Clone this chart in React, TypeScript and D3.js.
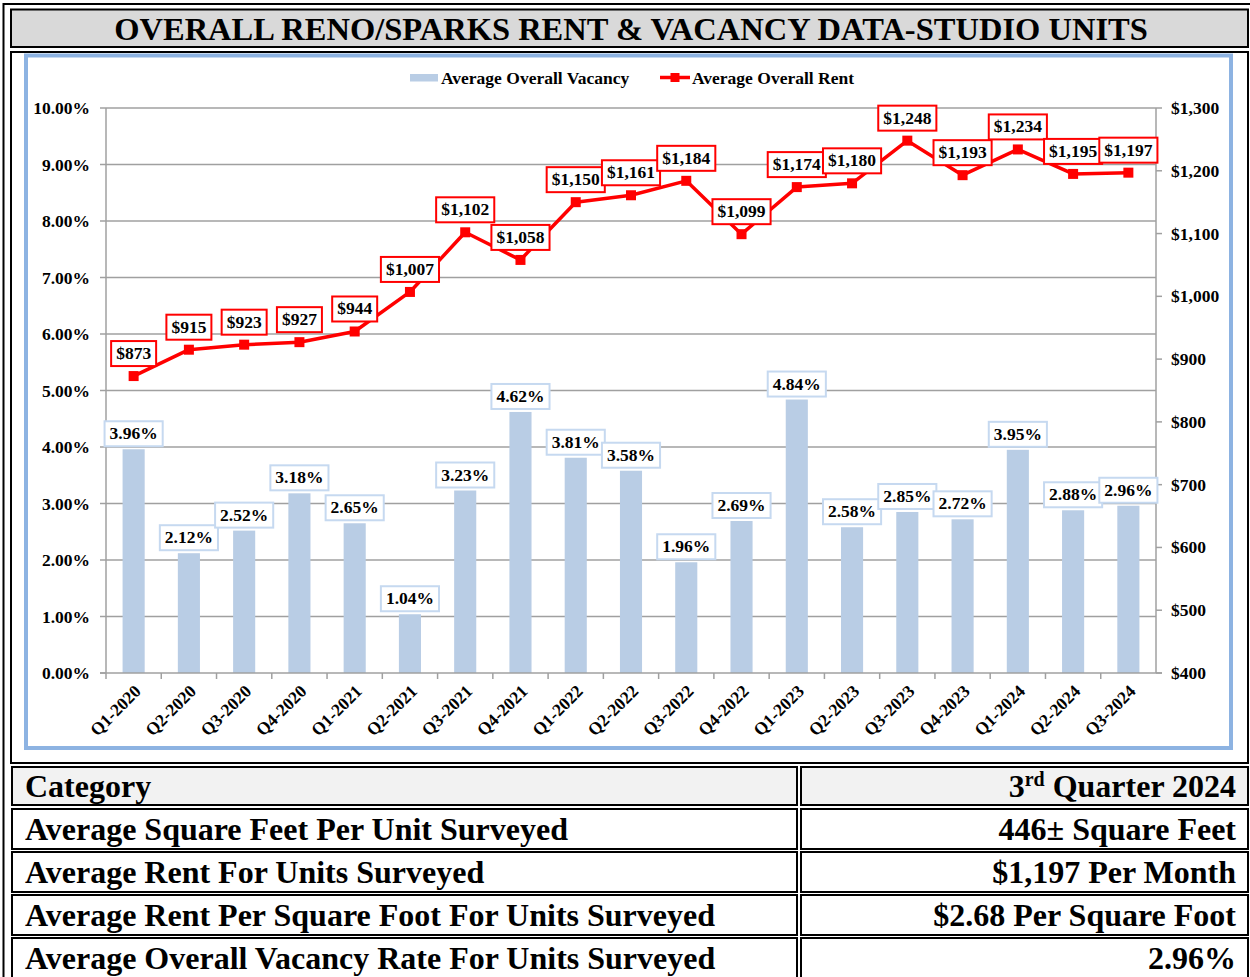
import React from 'react';
import * as d3 from 'd3';

const quarters = ['Q1-2020','Q2-2020','Q3-2020','Q4-2020','Q1-2021','Q2-2021','Q3-2021','Q4-2021','Q1-2022','Q2-2022','Q3-2022','Q4-2022','Q1-2023','Q2-2023','Q3-2023','Q4-2023','Q1-2024','Q2-2024','Q3-2024'];
const vacancy = [3.96,2.12,2.52,3.18,2.65,1.04,3.23,4.62,3.81,3.58,1.96,2.69,4.84,2.58,2.85,2.72,3.95,2.88,2.96];
const rent = [873,915,923,927,944,1007,1102,1058,1150,1161,1184,1099,1174,1180,1248,1193,1234,1195,1197];
const vacancyTicks = [0,1,2,3,4,5,6,7,8,9,10];
const rentTicks = [400,500,600,700,800,900,1000,1100,1200,1300];
const titleText = 'OVERALL RENO/SPARKS RENT & VACANCY DATA-STUDIO UNITS';
const legendLabels = ['Average Overall Vacancy','Average Overall Rent'];
const tableRows = [
  ['Average Square Feet Per Unit Surveyed','446\u00B1 Square Feet'],
  ['Average Rent For Units Surveyed','$1,197 Per Month'],
  ['Average Rent Per Square Foot For Units Surveyed','$2.68 Per Square Foot'],
  ['Average Overall Vacancy Rate For Units Surveyed','2.96%'],
];

const FONT = "'Liberation Serif', 'Times New Roman', serif";
const LBL = 17.5;

let ctx: CanvasRenderingContext2D | null = null;
function textW(s: string, size: number) {
  if (!ctx) ctx = document.createElement('canvas').getContext('2d');
  if (!ctx) return s.length * size * 0.5;
  ctx.font = `bold ${size}px 'Liberation Serif'`;
  return ctx.measureText(s).width;
}

export default function App() {
  const W = 1250, H = 977;
  const x = d3.scaleBand<string>().domain(quarters).range([106, 1156]).padding(0);
  const bw = x.bandwidth();
  const cx = (i: number) => (x(quarters[i]) as number) + bw / 2;
  const yL = d3.scaleLinear().domain([0, 10]).range([673, 108]);
  const yR = d3.scaleLinear().domain([400, 1300]).range([673, 108]);
  const line = d3.line<number>().x((_, i) => cx(i)).y(d => yR(d));
  const pct = d3.format('.2f');
  const money = d3.format('$,');
  const barW = bw * 0.4;

  const rowTop = [809, 852, 895, 938];

  return (
    <svg width={W} height={H} style={{ position: 'absolute', left: 0, top: 0, display: 'block' }} fontFamily={FONT}>
      <rect x={0} y={0} width={W} height={H} fill="#fff" />
      {/* outer double border */}
      <rect x={3.5} y={4} width={1260} height={1000} fill="none" stroke="#000" strokeWidth={2} />
      {/* title */}
      <rect x={11} y={9.5} width={1237} height={37.5} fill="#d9d9d9" stroke="#000" strokeWidth={2} />
      <text x={631} y={40} textAnchor="middle" fontSize={32.5} fontWeight="bold">{titleText}</text>
      {/* chart box */}
      <rect x={11} y={52} width={1237} height={711} fill="#fff" stroke="#000" strokeWidth={2} />
      <rect x={26} y={55.5} width={1205} height={692.5} fill="#fff" stroke="#8db3e2" strokeWidth={4} />

      {/* legend */}
      <rect x={410} y={74} width={28} height={7.5} fill="#b9cde5" />
      <text x={441} y={83.5} fontSize={LBL} fontWeight="bold">{legendLabels[0]}</text>
      <line x1={660} x2={690} y1={77.5} y2={77.5} stroke="#ff0000" strokeWidth={3.5} />
      <rect x={670.5} y={73} width={9} height={9} fill="#ff0000" />
      <text x={692} y={83.5} fontSize={LBL} fontWeight="bold">{legendLabels[1]}</text>

      {/* gridlines */}
      {vacancyTicks.filter(t => t > 0).map(t => (
        <line key={'g' + t} x1={106} x2={1156} y1={yL(t)} y2={yL(t)} stroke="#a0a0a0" strokeWidth={1.3} />
      ))}
      {/* bars */}
      {vacancy.map((v, i) => (
        <rect key={'b' + i} x={cx(i) - barW / 2} y={yL(v)} width={barW} height={yL(0) - yL(v)} fill="#b9cde5" />
      ))}
      {/* axes */}
      <line x1={106} x2={106} y1={108} y2={673} stroke="#a0a0a0" strokeWidth={1.5} />
      <line x1={1156} x2={1156} y1={108} y2={673} stroke="#a0a0a0" strokeWidth={1.5} />
      <line x1={100} x2={1162} y1={673} y2={673} stroke="#a0a0a0" strokeWidth={1.5} />
      {vacancyTicks.map(t => (
        <g key={'l' + t}>
          <line x1={100} x2={106} y1={yL(t)} y2={yL(t)} stroke="#a0a0a0" strokeWidth={1.5} />
          <text x={90} y={yL(t) + 6} textAnchor="end" fontSize={LBL} fontWeight="bold">{pct(t) + '%'}</text>
        </g>
      ))}
      {rentTicks.map(t => (
        <g key={'r' + t}>
          <line x1={1156} x2={1162} y1={yR(t)} y2={yR(t)} stroke="#a0a0a0" strokeWidth={1.5} />
          <text x={1171} y={yR(t) + 6} textAnchor="start" fontSize={LBL} fontWeight="bold">{money(t)}</text>
        </g>
      ))}
      {quarters.map((q, i) => (
        <g key={'x' + i}>
          <line x1={x(q) as number} x2={x(q) as number} y1={673} y2={679} stroke="#a0a0a0" strokeWidth={1.5} />
          <text transform={`translate(${cx(i) + 4},${688}) rotate(-45)`} textAnchor="end" fontSize={LBL} fontWeight="bold" dy="0.35em">{q}</text>
        </g>
      ))}
      {/* rent line */}
      <path d={line(rent) || ''} fill="none" stroke="#ff0000" strokeWidth={3.5} strokeLinejoin="round" />
      {rent.map((r, i) => (
        <rect key={'m' + i} x={cx(i) - 5} y={yR(r) - 5} width={10} height={10} fill="#ff0000" />
      ))}
      {/* vacancy labels */}
      {vacancy.map((v, i) => {
        const s = pct(v) + '%';
        const w = textW(s, LBL) + 10;
        const bottom = yL(v) - 3;
        return (
          <g key={'vl' + i}>
            <rect x={cx(i) - w / 2} y={bottom - 25} width={w} height={25} fill="#fff" stroke="#c6d9f0" strokeWidth={2} />
            <text x={cx(i)} y={bottom - 7} textAnchor="middle" fontSize={LBL} fontWeight="bold">{s}</text>
          </g>
        );
      })}
      {/* rent labels */}
      {rent.map((r, i) => {
        const s = money(r);
        const w = textW(s, LBL) + 10;
        const bottom = yR(r) - 10;
        return (
          <g key={'rl' + i}>
            <rect x={cx(i) - w / 2} y={bottom - 25} width={w} height={25} fill="#fff" stroke="#ff0000" strokeWidth={2} />
            <text x={cx(i)} y={bottom - 7} textAnchor="middle" fontSize={LBL} fontWeight="bold">{s}</text>
          </g>
        );
      })}

      {/* table */}
      <rect x={12} y={767} width={785} height={38} fill="#f2f2f2" stroke="#000" strokeWidth={2} />
      <rect x={801} y={767} width={447} height={38} fill="#f2f2f2" stroke="#000" strokeWidth={2} />
      <text x={25} y={797} fontSize={32} fontWeight="bold">Category</text>
      <text x={1236} y={797} fontSize={32} fontWeight="bold" textAnchor="end">
        <tspan>3</tspan>
        <tspan fontSize={20} dy={-11}>rd</tspan>
        <tspan dy={11}> Quarter 2024</tspan>
      </text>
      {tableRows.map((row, i) => (
        <g key={'t' + i}>
          <rect x={12} y={rowTop[i]} width={785} height={40} fill="#fff" stroke="#000" strokeWidth={2} />
          <rect x={801} y={rowTop[i]} width={447} height={40} fill="#fff" stroke="#000" strokeWidth={2} />
          <text x={25} y={rowTop[i] + 31} fontSize={32} fontWeight="bold">{row[0]}</text>
          <text x={1236} y={rowTop[i] + 31} fontSize={32} fontWeight="bold" textAnchor="end">{row[1]}</text>
        </g>
      ))}
    </svg>
  );
}
